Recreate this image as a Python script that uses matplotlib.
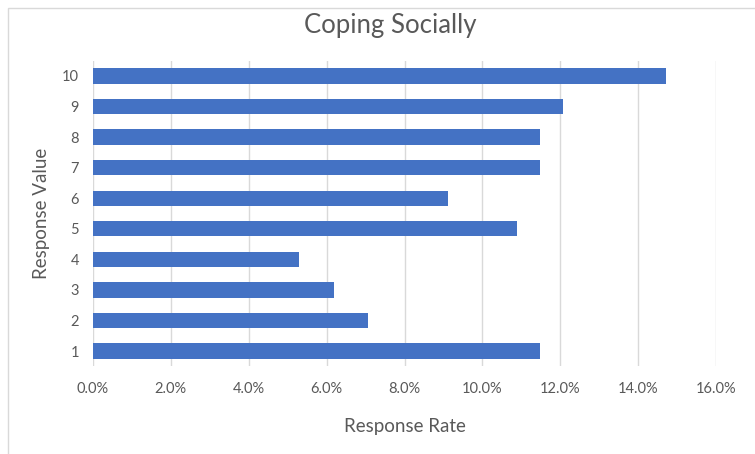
import matplotlib.pyplot as plt
from matplotlib.patches import Rectangle
from matplotlib.ticker import FuncFormatter

# data
response_values = ["1", "2", "3", "4", "5", "6", "7", "8", "9", "10"]
response_rates = [11.47, 7.06, 6.18, 5.29, 10.88, 9.12, 11.47, 11.47, 12.06, 14.71]
x_ticks = [0, 2, 4, 6, 8, 10, 12, 14, 16]

bar_color = "#4472C4"
text_color = "#595959"
grid_color = "#D9D9D9"

plt.rcParams['font.family'] = ['Lato', 'DejaVu Sans']

fig = plt.figure(figsize=(7.55, 4.54), dpi=100)

# light chart-area frame
fig.patches.append(Rectangle((8 / 755, -0.01), 1.0, 1 - 8 / 454 + 0.01,
                             transform=fig.transFigure, fill=False,
                             edgecolor="#D9D9D9", linewidth=1.0))

ax = fig.add_axes([93 / 755, 87.7 / 454, 623 / 755, 305.6 / 454])

ypos = range(len(response_values))
ax.barh(ypos, response_rates, height=0.5, color=bar_color, zorder=3)

ax.set_xlim(0, 16)
ax.set_ylim(-0.5, len(response_values) - 0.5)
ax.set_xticks(x_ticks)
ax.xaxis.set_major_formatter(FuncFormatter(lambda v, p: f"{v:.1f}%"))
ax.set_yticks(list(ypos))
ax.set_yticklabels(response_values)

ax.grid(axis="x", color=grid_color, linewidth=1.0, zorder=0)
for s in ax.spines.values():
    s.set_visible(False)
ax.tick_params(length=0, labelsize=10.5, colors=text_color)
ax.tick_params(axis="x", pad=11)
ax.tick_params(axis="y", pad=10)

ax.set_xlabel("Response Rate", fontsize=13.5, color=text_color, labelpad=16)
ax.set_ylabel("Response Value", fontsize=13.5, color=text_color, labelpad=9)

fig.text(0.5165, 1 - 26 / 454, "Coping Socially", fontsize=18.5, color=text_color,
         ha="center", va="center")

fig.savefig("out.png", dpi=100)
